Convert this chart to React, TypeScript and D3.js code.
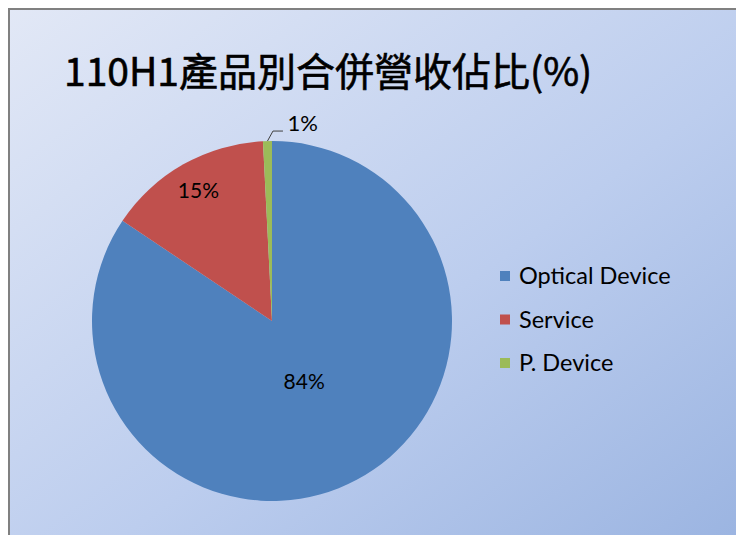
import React from "react";
import * as d3 from "d3";

const title = "110H1產品別合併營收佔比(%)";
const categories = ["Optical Device", "Service", "P. Device"];
const values = [84.4, 14.8, 0.8];
const colors = ["#4f81bd", "#c0504d", "#9bbb59"];
// where Excel put each inside label, as a share of the radius
const labelRadius = [0.38, 0.83, 1];

export default function App() {
  const width = 736;
  const height = 535;
  const cx = 272;
  const cy = 321;
  const r = 180;

  const pie = d3.pie<number>().sort(null).value((d) => d);
  const arcs = pie(values);
  const arc = d3.arc<d3.PieArcDatum<number>>().innerRadius(0).outerRadius(r);
  const total = d3.sum(values);

  const legendY = d3.scalePoint<string>().domain(categories).range([276, 363]);

  return (
    <svg width={width} height={height} style={{ position: "absolute", left: 0, top: 0 }}>
      <defs>
        <linearGradient id="bg" x1="0" y1="0" x2="1" y2="1">
          <stop offset="0%" stopColor="#e2e8f6" />
          <stop offset="55%" stopColor="#bccdee" />
          <stop offset="100%" stopColor="#98b2e0" />
        </linearGradient>
      </defs>
      <rect x={0} y={0} width={width} height={height} fill="#ffffff" />
      <rect x={9} y={9} width={width + 20} height={height + 20} fill="url(#bg)" stroke="#808080" strokeWidth={2} />
      <text
        x={64}
        y={86}
        fontFamily="'Noto Sans CJK TC', sans-serif"
        fontSize={39}
        fontWeight={400}
        fill="#000"
        stroke="#000"
        strokeWidth={0.6}
      >
        {title}
      </text>
      <g transform={`translate(${cx},${cy})`}>
        {arcs.map((a, i) => (
          <path key={i} d={arc(a) || ""} fill={colors[i]} />
        ))}
        {arcs.map((a, i) => {
          const pct = Math.round((a.data / total) * 100) + "%";
          const mid = (a.startAngle + a.endAngle) / 2;
          if (a.endAngle - a.startAngle < 0.2) {
            const x0 = Math.sin(mid) * r;
            const y0 = -Math.cos(mid) * r;
            return (
              <g key={"l" + i}>
                <polyline
                  points={`${x0},${y0} ${x0 + 5.5},${y0 - 10} ${x0 + 15.5},${y0 - 10}`}
                  fill="none"
                  stroke="#404040"
                  strokeWidth={1}
                />
                <text x={x0 + 20} y={y0 - 10} fontFamily="Lato, sans-serif" fontSize={22} fill="#000">
                  {pct}
                </text>
              </g>
            );
          }
          const rr = r * labelRadius[i];
          const lx = Math.sin(mid) * rr;
          const ly = -Math.cos(mid) * rr;
          return (
            <text key={"l" + i} x={lx} y={ly} dy="0.35em" textAnchor="middle" fontFamily="Lato, sans-serif" fontSize={21} fill="#000">
              {pct}
            </text>
          );
        })}
      </g>
      {categories.map((c, i) => (
        <g key={c} transform={`translate(500,${legendY(c)})`}>
          <rect x={0} y={-5} width={10} height={10} fill={colors[i]} />
          <text x={19} y={0} dy="0.35em" fontFamily="Lato, sans-serif" fontSize={23.5} fill="#000">
            {c}
          </text>
        </g>
      ))}
    </svg>
  );
}
